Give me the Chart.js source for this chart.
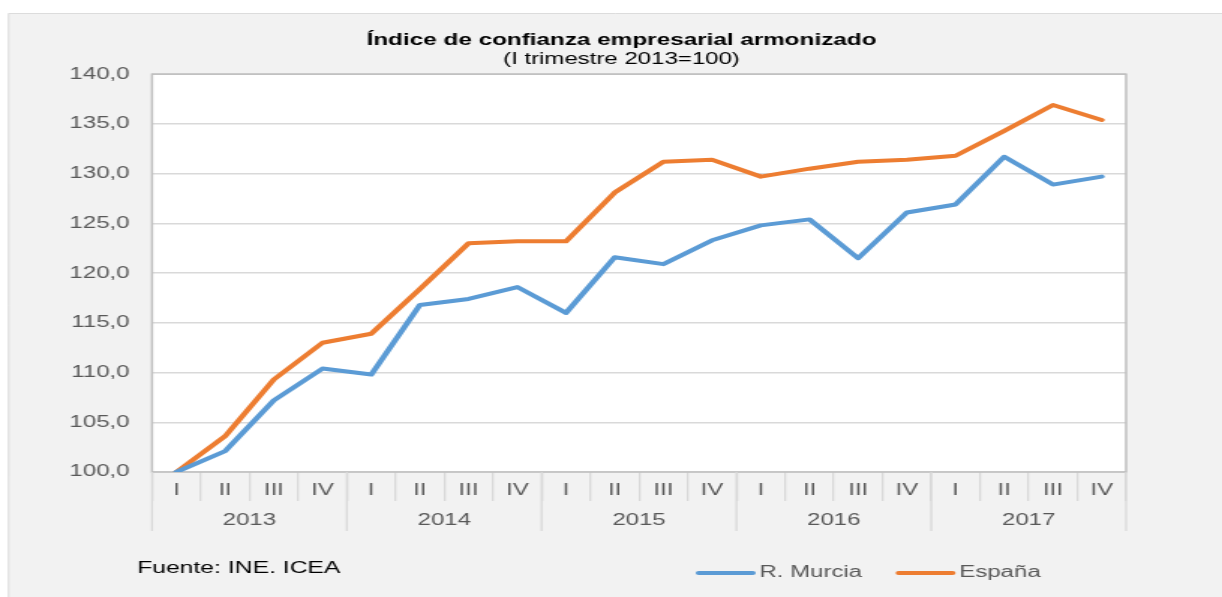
<!DOCTYPE html>
<html><head><meta charset="utf-8">
<script src="https://cdn.jsdelivr.net/npm/chart.js@4"></script>
<style>html,body{margin:0;padding:0;background:#fff;overflow:hidden}
#c{display:block;width:1222px;height:597px}</style>
</head><body>
<canvas id="c" width="815" height="597" style="width:1222px;height:597px"></canvas>
<script>
const years = ['2013', '2014', '2015', '2016', '2017'];
const quarters = ['I', 'II', 'III', 'IV'];
const seriesNames = ['R. Murcia', 'España'];
const murcia = [100.0, 102.1, 107.2, 110.4, 109.8, 116.8, 117.4, 118.6, 116.0, 121.6, 120.9, 123.3, 124.8, 125.4, 121.5, 126.1, 126.9, 131.7, 128.9, 129.7];
const espana = [100.0, 103.6, 109.3, 113.0, 113.9, 118.4, 123.0, 123.2, 123.2, 128.1, 131.2, 131.4, 129.7, 130.5, 131.2, 131.4, 131.8, 134.3, 136.9, 135.4];
const yMin = 100, yMax = 140, yStep = 5;
const titleText = 'Índice de confianza empresarial armonizado';
const subtitleText = '(I trimestre 2013=100)';
const sourceText = 'Fuente: INE. ICEA';

const FONT = "'Liberation Sans', Arial, Helvetica, sans-serif";
const GREY_TXT = '#595959';
const labels = years.flatMap(() => quarters);

const decor = {
  id: 'decor',
  beforeDraw(chart) {
    const ctx = chart.ctx, a = chart.chartArea;
    ctx.save();
    ctx.fillStyle = '#ffffff';
    ctx.fillRect(0, 0, chart.width, chart.height);
    ctx.fillStyle = '#f2f2f2';
    ctx.fillRect(5.3, 13, chart.width, chart.height);
    ctx.strokeStyle = '#dcdcdc'; ctx.lineWidth = 1;
    ctx.beginPath(); ctx.moveTo(5.8, chart.height); ctx.lineTo(5.8, 13.5); ctx.lineTo(chart.width, 13.5); ctx.stroke();
    ctx.fillStyle = '#ffffff';
    ctx.fillRect(a.left, a.top, a.right - a.left, a.bottom - a.top);
    ctx.restore();
  },
  beforeDatasetsDraw(chart) {
    const ctx = chart.ctx, a = chart.chartArea;
    ctx.save();
    ctx.strokeStyle = '#bfbfbf'; ctx.lineWidth = 1.5;
    ctx.strokeRect(a.left, a.top, a.right - a.left, a.bottom - a.top);
    ctx.restore();
  },
  afterDraw(chart) {
    const ctx = chart.ctx, a = chart.chartArea, xs = chart.scales.x;
    const half = (xs.getPixelForValue(1) - xs.getPixelForValue(0)) / 2;
    ctx.save();
    // year separators
    ctx.strokeStyle = '#d9d9d9'; ctx.lineWidth = 1.3;
    for (let i = 0; i <= years.length; i++) {
      const px = i < years.length ? xs.getPixelForValue(i * quarters.length) - half
                                  : xs.getPixelForValue(years.length * quarters.length - 1) + half;
      ctx.beginPath(); ctx.moveTo(px, a.bottom); ctx.lineTo(px, 531); ctx.stroke();
    }
    // year labels
    ctx.fillStyle = GREY_TXT; ctx.font = '16px ' + FONT;
    ctx.textAlign = 'center'; ctx.textBaseline = 'middle';
    years.forEach((y, i) => {
      const c = (xs.getPixelForValue(i * 4) + xs.getPixelForValue(i * 4 + 3)) / 2;
      ctx.fillText(y, c, 521);
    });
    // source
    ctx.fillStyle = '#000000'; ctx.font = '16.5px ' + FONT; ctx.textAlign = 'left';
    ctx.fillText(sourceText, 91.4, 568);
    // legend
    const lx = [464, 597.3];
    ctx.font = '16px ' + FONT;
    chart.data.datasets.forEach((ds, i) => {
      ctx.strokeStyle = ds.borderColor; ctx.lineWidth = 4; ctx.lineCap = 'round';
      ctx.beginPath(); ctx.moveTo(lx[i] + 2, 573); ctx.lineTo(lx[i] + 38, 573); ctx.stroke();
      ctx.fillStyle = GREY_TXT;
      ctx.fillText(ds.label, lx[i] + 42.5, 573);
    });
    ctx.restore();
  }
};

new Chart(document.getElementById('c'), {
  type: 'line',
  data: {
    labels: labels,
    datasets: [
      { label: seriesNames[0], data: murcia, borderColor: '#5b9bd5', backgroundColor: '#5b9bd5',
        borderWidth: 4, pointRadius: 0, tension: 0, borderCapStyle: 'round', borderJoinStyle: 'round' },
      { label: seriesNames[1], data: espana, borderColor: '#ed7d31', backgroundColor: '#ed7d31',
        borderWidth: 4, pointRadius: 0, tension: 0, borderCapStyle: 'round', borderJoinStyle: 'round' }
    ]
  },
  options: {
    responsive: false,
    devicePixelRatio: 1,
    animation: false,
    layout: { padding: { top: 0, bottom: 0, left: 14, right: 0 } },
    plugins: {
      legend: { display: false },
      tooltip: { enabled: false },
      title: { display: true, text: titleText, color: '#000000',
        font: { family: FONT, size: 16.2, weight: 'bold', lineHeight: 1 }, padding: { top: 32, bottom: 0 } },
      subtitle: { display: true, text: subtitleText, color: '#000000',
        font: { family: FONT, size: 16, lineHeight: 1 }, padding: { top: 3, bottom: 7 } }
    },
    scales: {
      x: {
        type: 'category',
        offset: true,
        afterFit(s) { s.height = 125; },
        grid: { offset: true, drawOnChartArea: false, drawTicks: true, tickLength: 29, color: '#d9d9d9', lineWidth: 1.3 },
        border: { display: false },
        ticks: { autoSkip: false, maxRotation: 0, minRotation: 0, padding: -20, color: GREY_TXT,
          font: { family: FONT, size: 16 } }
      },
      y: {
        min: yMin, max: yMax,
        afterFit(s) { s.width = 87.4; },
        grid: { drawTicks: false, color: '#d9d9d9', lineWidth: 1.5 },
        border: { display: false },
        ticks: { stepSize: yStep, padding: 15, color: GREY_TXT, font: { family: FONT, size: 16 },
          callback: v => v.toFixed(1).replace('.', ',') }
      },
      yRight: {
        position: 'right',
        display: true,
        min: yMin, max: yMax,
        afterFit(s) { s.width = 64; },
        grid: { display: false, drawOnChartArea: false, drawTicks: false },
        border: { display: false },
        ticks: { display: false }
      }
    }
  },
  plugins: [decor]
});
</script>
</body></html>
